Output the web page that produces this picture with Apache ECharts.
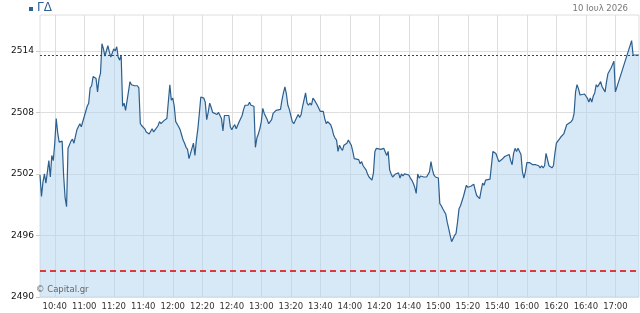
<!DOCTYPE html>
<html>
<head>
<meta charset="utf-8">
<script src="https://cdn.jsdelivr.net/npm/echarts@6/dist/echarts.min.js"></script>
<style>
  html, body { margin: 0; padding: 0; background: #fff; }
  #chart { width: 640px; height: 313px; }
</style>
</head>
<body>
<div id="chart"></div>
<script>
// intraday ΓΔ index, 10 Jul
const times = [
  '10:30','10:31','10:32','10:33','10:34','10:36','10:37','10:38','10:39','10:40',
  '10:41','10:42','10:43','10:45','10:46','10:47','10:48','10:49','10:51','10:52',
  '10:53','10:55','10:56','10:57','10:58','11:00','11:02','11:03','11:04','11:05',
  '11:06','11:07','11:08','11:09','11:10','11:11','11:12','11:13','11:14','11:16',
  '11:17','11:18','11:20','11:21','11:22','11:23','11:24','11:25','11:26','11:27',
  '11:28','11:29','11:31','11:32','11:34','11:36','11:37','11:38','11:39','11:41',
  '11:42','11:44','11:45','11:46','11:47','11:48','11:50','11:51','11:52','11:54',
  '11:55','11:56','11:57','11:58','11:59','12:00','12:01','12:02','12:03','12:04',
  '12:05','12:06','12:07','12:08','12:09','12:10','12:11','12:12','12:14','12:15',
  '12:16','12:17','12:18','12:19','12:21','12:22','12:23','12:24','12:25','12:26',
  '12:27','12:28','12:30','12:31','12:32','12:33','12:34','12:35','12:36','12:38',
  '12:39','12:40','12:41','12:42','12:43','12:44','12:45','12:47','12:48','12:49',
  '12:50','12:51','12:52','12:53','12:55','12:56','12:57','12:58','12:59','13:00',
  '13:01','13:02','13:04','13:05','13:06','13:07','13:08','13:09','13:10','13:11',
  '13:13','13:14','13:15','13:16','13:17','13:18','13:19','13:21','13:22','13:23',
  '13:24','13:25','13:26','13:27','13:28','13:30','13:31','13:32','13:33','13:34',
  '13:35','13:36','13:37','13:38','13:40','13:41','13:42','13:43','13:44','13:45',
  '13:47','13:48','13:49','13:50','13:51','13:52','13:53','13:54','13:55','13:56',
  '13:58','13:59','14:00','14:01','14:02','14:03','14:04','14:06','14:07','14:08',
  '14:09','14:10','14:11','14:12','14:13','14:15','14:16','14:17','14:18','14:19',
  '14:21','14:22','14:23','14:24','14:25','14:26','14:27','14:28','14:29','14:31',
  '14:32','14:33','14:34','14:35','14:36','14:37','14:38','14:40','14:41','14:42',
  '14:43','14:44','14:45','14:46','14:47','14:48','14:50','14:51','14:52','14:53',
  '14:54','14:55','14:56','14:57','14:58','15:00','15:01','15:02','15:03','15:04',
  '15:05','15:06','15:07','15:08','15:09','15:10','15:11','15:12','15:13','15:14',
  '15:15','15:17','15:18','15:19','15:20','15:21','15:22','15:23','15:24','15:25',
  '15:26','15:28','15:29','15:30','15:31','15:32','15:33','15:35','15:36','15:37',
  '15:38','15:39','15:40','15:41','15:42','15:43','15:44','15:45','15:46','15:48',
  '15:49','15:50','15:51','15:52','15:53','15:54','15:55','15:56','15:57','15:58',
  '15:59','16:00','16:01','16:02','16:04','16:06','16:07','16:08','16:09','16:10',
  '16:11','16:12','16:13','16:14','16:15','16:16','16:17','16:18','16:19','16:20',
  '16:21','16:23','16:24','16:25','16:26','16:27','16:28','16:30','16:31','16:32',
  '16:33','16:34','16:35','16:36','16:37','16:39','16:40','16:41','16:42','16:43',
  '16:44','16:45','16:46','16:47','16:48','16:50','16:51','16:52','16:53','16:54',
  '16:55','16:56','16:57','16:58','16:59','17:00','17:11','17:12','17:16'
];
const prices = [
  2501.9,2499.8,2501.2,2502.0,2501.1,2503.3,2501.7,2503.8,2503.3,2505.0,
  2507.4,2506.0,2505.1,2505.2,2501.9,2499.7,2498.8,2504.5,2505.2,2505.4,
  2505.0,2506.3,2506.2,2506.9,2506.6,2507.6,2508.6,2508.9,2510.4,2510.6,
  2511.5,2511.6,2511.3,2510.0,2511.3,2511.8,2514.7,2514.2,2513.5,2514.5,
  2513.9,2513.4,2514.2,2514.0,2514.4,2513.4,2513.1,2513.6,2508.6,2508.9,
  2508.2,2508.3,2511.0,2510.7,2510.6,2510.6,2510.4,2506.9,2506.7,2506.4,
  2506.1,2505.9,2505.8,2506.4,2506.1,2506.3,2506.7,2507.1,2506.9,2507.2,
  2507.1,2507.4,2507.4,2510.7,2509.2,2509.4,2508.6,2507.1,2507.0,2506.6,
  2506.3,2505.8,2505.3,2505.0,2504.6,2504.4,2503.5,2503.4,2505.0,2503.8,
  2505.3,2506.4,2507.9,2509.5,2509.4,2509.0,2507.3,2508.0,2508.9,2508.5,
  2508.0,2508.1,2507.8,2508.0,2507.7,2507.4,2506.2,2507.7,2507.8,2507.7,
  2506.6,2506.3,2506.6,2506.8,2506.4,2506.3,2507.1,2507.7,2508.3,2508.7,
  2508.8,2508.7,2509.0,2508.7,2508.6,2504.6,2505.5,2505.9,2506.4,2507.1,
  2508.4,2507.9,2507.3,2506.9,2507.1,2507.3,2507.9,2507.8,2508.2,2508.1,
  2508.3,2509.2,2509.9,2510.5,2509.8,2508.7,2508.3,2507.1,2506.9,2506.9,
  2507.5,2507.8,2507.5,2507.8,2508.6,2509.9,2508.9,2508.7,2508.9,2508.7,
  2509.4,2509.2,2509.1,2508.7,2508.1,2508.2,2508.1,2507.4,2506.9,2507.1,
  2506.8,2506.4,2505.8,2505.5,2505.3,2504.2,2504.8,2504.5,2504.3,2504.8,
  2505.0,2505.3,2505.2,2504.8,2504.2,2503.5,2503.4,2503.4,2503.0,2503.2,
  2502.8,2502.7,2502.4,2502.0,2501.7,2501.4,2502.1,2504.2,2504.5,2504.4,
  2504.4,2504.4,2504.5,2504.4,2503.8,2504.2,2502.4,2502.0,2501.7,2502.0,
  2501.9,2502.1,2501.6,2502.0,2501.8,2502.0,2501.9,2501.9,2501.6,2501.4,
  2501.1,2500.7,2500.1,2502.0,2501.6,2501.8,2501.7,2501.8,2501.7,2501.8,
  2502.2,2503.2,2502.4,2501.9,2501.7,2501.6,2499.1,2498.9,2498.6,2498.6,
  2498.1,2497.3,2496.7,2496.0,2495.4,2495.5,2496.0,2496.2,2497.3,2498.6,
  2498.9,2499.8,2499.9,2500.9,2500.7,2500.6,2500.8,2500.7,2501.0,2500.4,
  2499.9,2499.6,2500.4,2501.1,2500.9,2501.4,2501.3,2501.5,2501.4,2504.2,
  2504.2,2504.0,2503.9,2503.2,2503.1,2503.4,2503.5,2503.7,2503.8,2503.9,
  2503.3,2502.9,2504.0,2504.5,2504.2,2504.5,2504.4,2503.9,2502.2,2501.6,
  2502.2,2503.1,2503.2,2503.1,2502.9,2502.9,2502.8,2502.8,2502.6,2502.8,
  2502.6,2502.8,2504.0,2503.9,2502.8,2502.9,2502.6,2502.8,2504.0,2505.0,
  2505.1,2505.6,2505.7,2505.9,2506.0,2506.8,2506.7,2507.1,2507.3,2507.9,
  2510.0,2510.7,2510.3,2509.7,2509.8,2509.8,2509.6,2509.4,2509.0,2509.4,
  2509.0,2509.6,2509.9,2510.7,2510.5,2511.0,2510.5,2510.6,2510.0,2511.0,
  2511.8,2511.9,2512.3,2512.3,2513.0,2510.0,2515.0,2513.6,2513.6
];
const lastPrice = 2513.6;
const prevClose = 2492.6;
const yTicks = [2490, 2496, 2502, 2508, 2514];
const xTickLabels = ['10:40','11:00','11:20','11:40','12:00','12:20','12:40','13:00','13:20','13:40',
  '14:00','14:20','14:40','15:00','15:20','15:40','16:00','16:20','16:40','17:00'];

const toMin = s => { const [h, m] = s.split(':').map(Number); return h * 60 + m; };
const fmt = v => { const h = Math.floor(v / 60), m = Math.round(v % 60); return h + ':' + String(m).padStart(2, '0'); };

const chart = echarts.init(document.getElementById('chart'));
chart.setOption({
  animation: false,
  textStyle: { fontFamily: 'DejaVu Sans' },
  grid: { left: 40, right: 1, top: 15, bottom: 16, show: true, borderColor: '#dedede', borderWidth: 1 },
  graphic: [
    { type: 'rect', left: 29, top: 7, shape: { width: 4, height: 4 }, style: { fill: '#2f5f94' } },
    { type: 'text', left: 37, top: 2, style: { text: 'ΓΔ', fill: '#2f5f94', font: '12px DejaVu Sans' } },
    { type: 'text', right: 12, top: 4, style: { text: '10 Ιουλ 2026', fill: '#777', font: '8.5px DejaVu Sans' } },
    { type: 'text', left: 36, top: 285, z: 10, style: { text: '© Capital.gr', fill: '#666', font: '8.5px DejaVu Sans' } }
  ],
  xAxis: {
    type: 'value',
    min: toMin('10:30'),
    max: toMin('17:16'),
    axisLine: { show: false },
    axisTick: { show: false, customValues: xTickLabels.map(toMin) },
    splitLine: { show: true, lineStyle: { color: '#dedede', width: 1 } },
    axisLabel: { customValues: xTickLabels.map(toMin), formatter: fmt, color: '#333', fontSize: 8.5, margin: 5 }
  },
  yAxis: {
    type: 'value',
    min: 2490,
    max: 2517.5,
    interval: 6,
    axisLine: { show: false },
    axisTick: { show: true, length: 4, lineStyle: { color: '#ccc' }, customValues: yTicks },
    splitLine: { lineStyle: { color: '#dedede', width: 1 } },
    axisLabel: { customValues: yTicks, formatter: v => String(v), color: '#111', fontSize: 9, margin: 6 }
  },
  series: [{
    type: 'line',
    data: times.map((t, i) => [toMin(t), prices[i]]),
    showSymbol: false,
    lineStyle: { color: '#2c5f8e', width: 1.2 },
    areaStyle: { color: 'rgba(175,211,239,0.5)', opacity: 1, origin: 'start' },
    markLine: {
      silent: true,
      symbol: 'none',
      label: { show: false },
      data: [
        { yAxis: lastPrice, lineStyle: { color: '#2c4a6e', type: [2, 2], width: 1 } },
        { yAxis: prevClose, lineStyle: { color: '#e00000', type: [6, 4], width: 1.5 } }
      ]
    }
  }]
});
</script>
</body>
</html>
